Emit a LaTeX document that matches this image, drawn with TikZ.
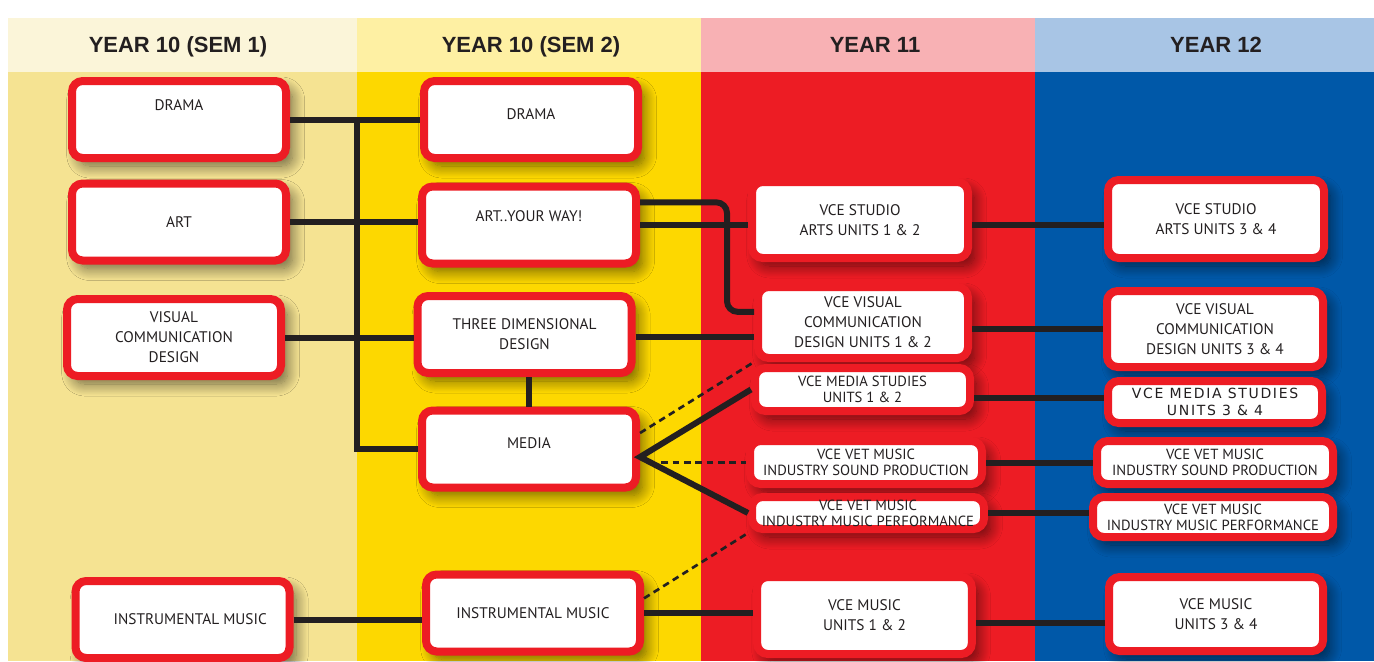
\documentclass[tikz,border=0pt]{standalone}
\usepackage{fontspec}
\setmainfont{PT Sans}
\newfontfamily\headfont{Liberation Sans}
\newfontfamily\widefont[LetterSpace=12]{DejaVu Sans}
\usetikzlibrary{calc,shadows.blur}
\definecolor{ink}{HTML}{231F20}
\definecolor{boxred}{HTML}{ED1C24}
\definecolor{hdA}{HTML}{FBF5D9}
\definecolor{hdB}{HTML}{FEF0A3}
\definecolor{hdC}{HTML}{F8B1B4}
\definecolor{hdD}{HTML}{A8C5E5}
\definecolor{bdA}{HTML}{F5E392}
\definecolor{bdB}{HTML}{FDD800}
\definecolor{bdC}{HTML}{ED1C24}
\definecolor{bdD}{HTML}{0058A8}

\begin{document}
\begin{tikzpicture}[x=0.75pt,y=-0.75pt,
  box/.style={draw=boxred,line width=6pt,fill=white,rounded corners=8pt,
    align=center,text=ink,inner sep=1pt,
    minimum width=160.5pt,minimum height=57.75pt,
    font=\fontsize{11.5}{15}\selectfont,
    blur shadow={shadow xshift=5pt,shadow yshift=-6pt,shadow blur radius=9pt,
      shadow blur steps=14,shadow opacity=55}},
  small/.style={font=\fontsize{11}{12}\selectfont},
  up/.style={text height=8pt,text depth=#1},
  link/.style={draw=ink,line width=4.5pt},
  dlink/.style={draw=ink,line width=2pt,dash pattern=on 5pt off 3.5pt},
  head/.style={anchor=base,font=\headfont\bfseries\fontsize{16.5}{18}\selectfont,text=ink}]
  \useasboundingbox (0,0) rectangle (1374,661);
  \fill[white] (0,0) rectangle (1374,661);
  % columns
  \foreach \xa/\xb/\hc/\bc in {8/357/hdA/bdA,357/701/hdB/bdB,701/1035/hdC/bdC,1035/1374/hdD/bdD}
  {
    \fill[\hc] (\xa,18) rectangle (\xb,72);
    \fill[\bc] (\xa,72) rectangle (\xb,661);
  }
  \node[head] (h1) at (178,52) {YEAR 10 (SEM 1)};
  \node[head] (h2) at (531,52) {YEAR 10 (SEM 2)};
  \node[head] (h3) at (875,52) {YEAR 11};
  \node[head] (h4) at (1216,52) {YEAR 12};

  % year 10, sem 1
  \node[box,up=21.75pt] (a1) at (179,119.5) {DRAMA};
  \node[box] (a2) at (179,222) {ART};
  \node[box] (a3) at (174,337.5) {VISUAL\\COMMUNICATION\\DESIGN};
  \node[box] (a4) at (182.5,619.5) {\quad INSTRUMENTAL MUSIC};
  % year 10, sem 2
  \node[box,up=8.25pt] (b1) at (531,119.5) {DRAMA};
  \node[box,up=13.5pt] (b2) at (529,225) {ART..YOUR WAY!};
  \node[box] (b3) at (524.5,334.5) {THREE DIMENSIONAL\\DESIGN};
  \node[box,up=9pt] (b4) at (529,449) {MEDIA};
  \node[box] (b5) at (533,613) {INSTRUMENTAL MUSIC};
  % year 11
  \node[box,minimum width=162pt,minimum height=57pt] (c1) at (860,220) {VCE STUDIO\\ARTS UNITS 1 \& 2};
  \node[box,minimum width=157.5pt,minimum height=53.25pt] (c2) at (863,322.5) {VCE VISUAL\\COMMUNICATION\\DESIGN UNITS 1 \& 2};
  \node[box,small,minimum width=161.25pt,minimum height=32.25pt] (c3) at (862.5,389.5) {VCE MEDIA STUDIES\\UNITS 1 \& 2};
  \node[box,small,minimum width=174pt,minimum height=32.25pt] (c4) at (866,462.5) {VCE VET MUSIC\\INDUSTRY SOUND PRODUCTION};
  \node[box,small,minimum width=174pt,minimum height=24pt] (c5) at (868,513) {VCE VET MUSIC\\INDUSTRY MUSIC PERFORMANCE};
  \node[box,minimum width=161pt] (c6) at (864.5,615.5) {VCE MUSIC\\UNITS 1 \& 2};
  % year 12
  \node[box,minimum width=162pt,minimum height=58.5pt] (d1) at (1216,219) {VCE STUDIO\\ARTS UNITS 3 \& 4};
  \node[box,minimum width=162pt,minimum height=57pt] (d2) at (1215,329) {VCE VISUAL\\COMMUNICATION\\DESIGN UNITS 3 \& 4};
  \node[box,font=\widefont\fontsize{10.5}{12.75}\selectfont,minimum width=160.5pt,minimum height=31.5pt] (d3) at (1215,402) {VCE MEDIA STUDIES\\UNITS 3 \& 4};
  \node[box,small,minimum width=177pt,minimum height=32.25pt] (d4) at (1215,462.5) {VCE VET MUSIC\\INDUSTRY SOUND PRODUCTION};
  \node[box,small,minimum width=180pt,minimum height=30pt] (d5) at (1213,517) {VCE VET MUSIC\\INDUSTRY MUSIC PERFORMANCE};
  \node[box,minimum width=160.5pt,minimum height=55.5pt] (d6) at (1216,614) {VCE MUSIC\\UNITS 3 \& 4};

  \coordinate (tr) at (357,0);
  \coordinate (bend) at (727,0);
  \coordinate (hub) at ([yshift=-6pt]b4.east);
  % links into sem 2
  \draw[link] (a1.east) -- (a1.east -| b1.west);
  \draw[link] (a1.east -| tr) |- (b4.west);
  \draw[link] (a2.east) -- (a2.east -| b2.west);
  \draw[link] (a3.east) -- (a3.east -| b3.west);
  \draw[link] (a4.east) -- (a4.east -| b5.west);
  \draw[link] (b4.north |- b3.south) -- (b4.north);
  % links into year 11
  \draw[link,rounded corners=8pt] ([yshift=17pt]b2.east) -| ([yshift=8pt]bend |- c2.west) -- ([yshift=8pt]c2.west);
  \draw[link] (b2.east) -- (b2.east -| c1.west);
  \draw[link] ([yshift=-2pt]b3.east) -- ([yshift=-2pt]b3.east -| c2.west);
  \draw[link] (c3.west) -- (hub) -- (c5.west);
  \draw[dlink] ([yshift=12pt]b4.east) -- (c2.south west);
  \draw[dlink] ([xshift=16pt]b4.east |- c4.west) -- (c4.west);
  \draw[dlink] ([yshift=11pt]b5.east) -- (c5.south west);
  \draw[link] (b5.east) -- (b5.east -| c6.west);
  % links into year 12
  \draw[link] ([yshift=-4pt]c1.east) -- ([yshift=-4pt]c1.east -| d1.west);
  \draw[link] (d2.west -| c2.east) -- (d2.west);
  \draw[link] ([yshift=-6pt]c3.east) -- ([yshift=-6pt]c3.east -| d3.west);
  \draw[link] (c4.east) -- (c4.east -| d4.west);
  \draw[link] (c5.east) -- (c5.east -| d5.west);
  \draw[link] ([yshift=-5.5pt]c6.east) -- ([yshift=-5.5pt]c6.east -| d6.west);
\end{tikzpicture}
\end{document}
